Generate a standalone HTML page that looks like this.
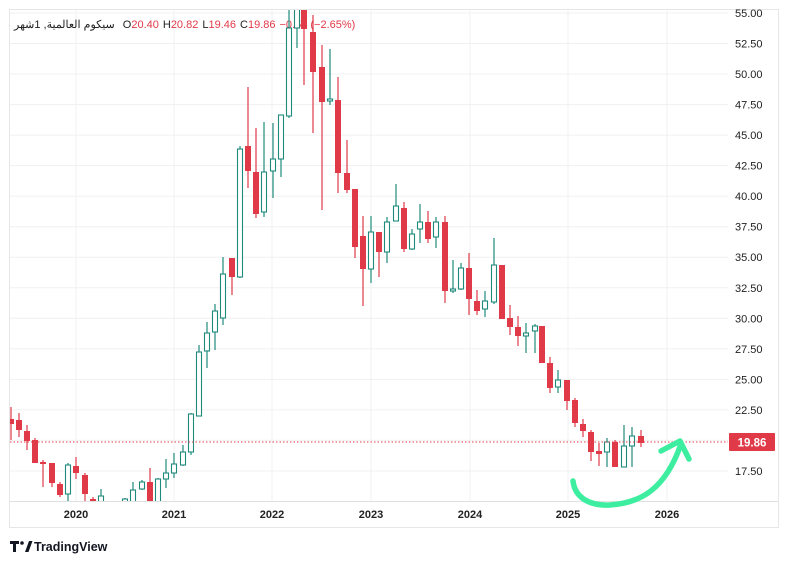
<!DOCTYPE html>
<html><head><meta charset="utf-8"><style>
body{margin:0;background:#fff;width:789px;height:564px;overflow:hidden;font-family:"Liberation Sans","Noto Sans CJK SC",sans-serif}
</style></head><body>
<svg width="789" height="564" xmlns="http://www.w3.org/2000/svg" style="position:absolute;left:0;top:0">
<rect x="9.5" y="9.5" width="769" height="518" fill="#fff" stroke="#e6e6e6"/>
<g id="grid" stroke="#f0f0f0" stroke-width="1"></g>
<line x1="10" y1="501.5" x2="778" y2="501.5" stroke="#e0e0e0"/>
<defs><clipPath id="c"><rect x="10" y="10" width="718" height="491"/></clipPath></defs>
<text x="14" y="28" font-size="11" fill="#222"><tspan>سيكوم العالمية, 1شهر</tspan><tspan dx="8">O</tspan><tspan fill="#e03a48">20.40</tspan><tspan dx="4">H</tspan><tspan fill="#e03a48">20.82</tspan><tspan dx="4">L</tspan><tspan fill="#e03a48">19.46</tspan><tspan dx="4">C</tspan><tspan fill="#e03a48">19.86</tspan><tspan dx="4" fill="#e03a48">−0.54 (−2.65%)</tspan></text>
<g id="candles" clip-path="url(#c)"></g>
<line x1="10" y1="442" x2="728" y2="442" stroke="#e03a48" stroke-dasharray="1.5,2" stroke-width="1"/>
<rect x="729" y="433" width="46" height="18" fill="#e03a48" rx="1"/>
<text x="752" y="446.5" fill="#fff" font-size="11.5" font-weight="bold" text-anchor="middle">19.86</text>
<g id="ylab" font-size="11" fill="#222" text-anchor="start"></g>
<g font-size="11" font-weight="bold" fill="#222" text-anchor="middle">
<text x="76" y="518">2020</text><text x="174" y="518">2021</text><text x="272" y="518">2022</text><text x="371" y="518">2023</text><text x="470" y="518">2024</text><text x="568" y="518">2025</text><text x="667" y="518">2026</text>
</g>
<path d="M573,481 C575,498 590,506 610,505 C640,503 665,490 681,444" fill="none" stroke="#3eeea0" stroke-width="5.5" stroke-linecap="round"/>
<path d="M661,451 L680,441 L689,459" fill="none" stroke="#3eeea0" stroke-width="5.5" stroke-linecap="round" stroke-linejoin="round"/>
<g fill="#131722"><path d="M10,541 h9 v3 h-3 v8 h-3 v-8 h-3z"/><circle cx="22" cy="543" r="1.8"/><path d="M25,552 l4,-11 h3.5 l-4,11z"/></g>
<text x="34" y="551" font-size="12.5" font-weight="bold" fill="#131722">TradingView</text>
</svg>
<script>
const ns="http://www.w3.org/2000/svg";
function el(t,a,p){const e=document.createElementNS(ns,t);for(const k in a)e.setAttribute(k,a[k]);p.appendChild(e);return e;}
const grid=document.getElementById('grid'),yl=document.getElementById('ylab');
const labs=["55.00","52.50","50.00","47.50","45.00","42.50","40.00","37.50","35.00","32.50","30.00","27.50","25.00","22.50","20.00","17.50"];
labs.forEach((l,i)=>{const y=13+i*30.53;el('line',{x1:10,x2:728,y1:y,y2:y},grid);if(l!="20.00"){const t=el('text',{x:735,y:y+4},yl);t.textContent=l;}});
[76,174,272,371,470,568,667].forEach(x=>el('line',{x1:x,x2:x,y1:10,y2:501},grid));
const C=[
[11,407,440,419,424,'r'],[19,413,437,420,430,'r'],[27,425,450,431,441,'r'],[35,438,463,440,463,'r'],[43,460,487,462,464,'r'],
[52,463,487,463,483,'r'],[60,482,497,484,495,'r'],[68,463,502,465,494,'g'],[76,457,479,466,473,'r'],[85,473,502,475,494,'r'],
[93,497,505,499,501,'r'],[101,489,505,496,505,'g'],[125,498,505,499,505,'g'],[133,482,505,490,505,'g'],[142,480,490,482,489,'g'],
[150,468,505,482,505,'r'],[158,478,505,479,505,'g'],[166,459,488,473,479,'g'],[174,453,478,464,473,'g'],[183,445,466,452,465,'g'],
[191,413,455,414,452,'g'],[199,345,416,352,416,'g'],[207,322,368,333,351,'g'],[215,304,350,311,332,'g'],[223,257,325,274,318,'g'],
[232,258,295,258,277,'r'],[240,146,278,149,277,'g'],[248,87,188,146,171,'r'],[256,128,218,172,214,'r'],[264,122,217,172,212,'g'],
[273,123,198,159,171,'g'],[281,115,177,115,159,'g'],[289,5,118,28,116,'g'],[297,5,48,5,28,'g'],[304,5,85,5,29,'r'],
[313,15,133,32,72,'r'],[322,45,210,67,102,'r'],[330,49,105,99,101,'g'],[338,77,193,100,173,'r'],[347,140,193,173,190,'r'],
[355,189,258,189,247,'r'],[363,216,306,236,269,'r'],[371,216,283,232,269,'g'],[379,232,277,232,252,'r'],[387,217,263,222,252,'g'],
[396,184,221,206,221,'g'],[404,202,252,208,249,'r'],[412,229,250,234,249,'g'],[420,204,243,222,229,'g'],[428,211,243,222,239,'r'],
[436,217,248,222,237,'g'],[445,216,303,222,291,'r'],[453,260,293,289,291,'g'],[461,263,290,268,289,'g'],[469,253,315,268,299,'r'],
[477,290,315,301,311,'r'],[485,291,317,301,309,'g'],[494,238,304,265,302,'g'],[502,265,319,265,319,'r'],[510,305,335,318,327,'r'],
[518,316,346,327,336,'r'],[526,323,353,333,336,'g'],[535,324,353,326,331,'g'],[542,326,363,326,363,'r'],[550,357,393,363,388,'r'],
[558,370,393,380,387,'g'],[567,380,410,380,401,'r'],[575,398,427,400,423,'r'],[583,419,437,424,431,'r'],[591,430,461,432,452,'r'],
[599,443,466,451,454,'r'],[607,438,467,442,452,'g'],[615,440,467,442,467,'r'],[624,425,467,446,467,'g'],[632,427,467,436,446,'g'],
[641,430,447,436,443,'r']];
const cg=document.getElementById('candles');
C.forEach(([x,wt,wb,bt,bb,c])=>{const col=c=='r'?'#e03a48':'#1f8a7c';
el('line',{x1:x,x2:x,y1:wt,y2:wb,stroke:col,'stroke-width':1.2},cg);
if(c=='r')el('rect',{x:x-3,y:bt,width:6,height:Math.max(bb-bt,1.5),fill:col},cg);
else el('rect',{x:x-2.5,y:bt,width:5,height:Math.max(bb-bt,1),fill:'#fff',stroke:col,'stroke-width':1.1},cg);});
</script>
</body></html>
